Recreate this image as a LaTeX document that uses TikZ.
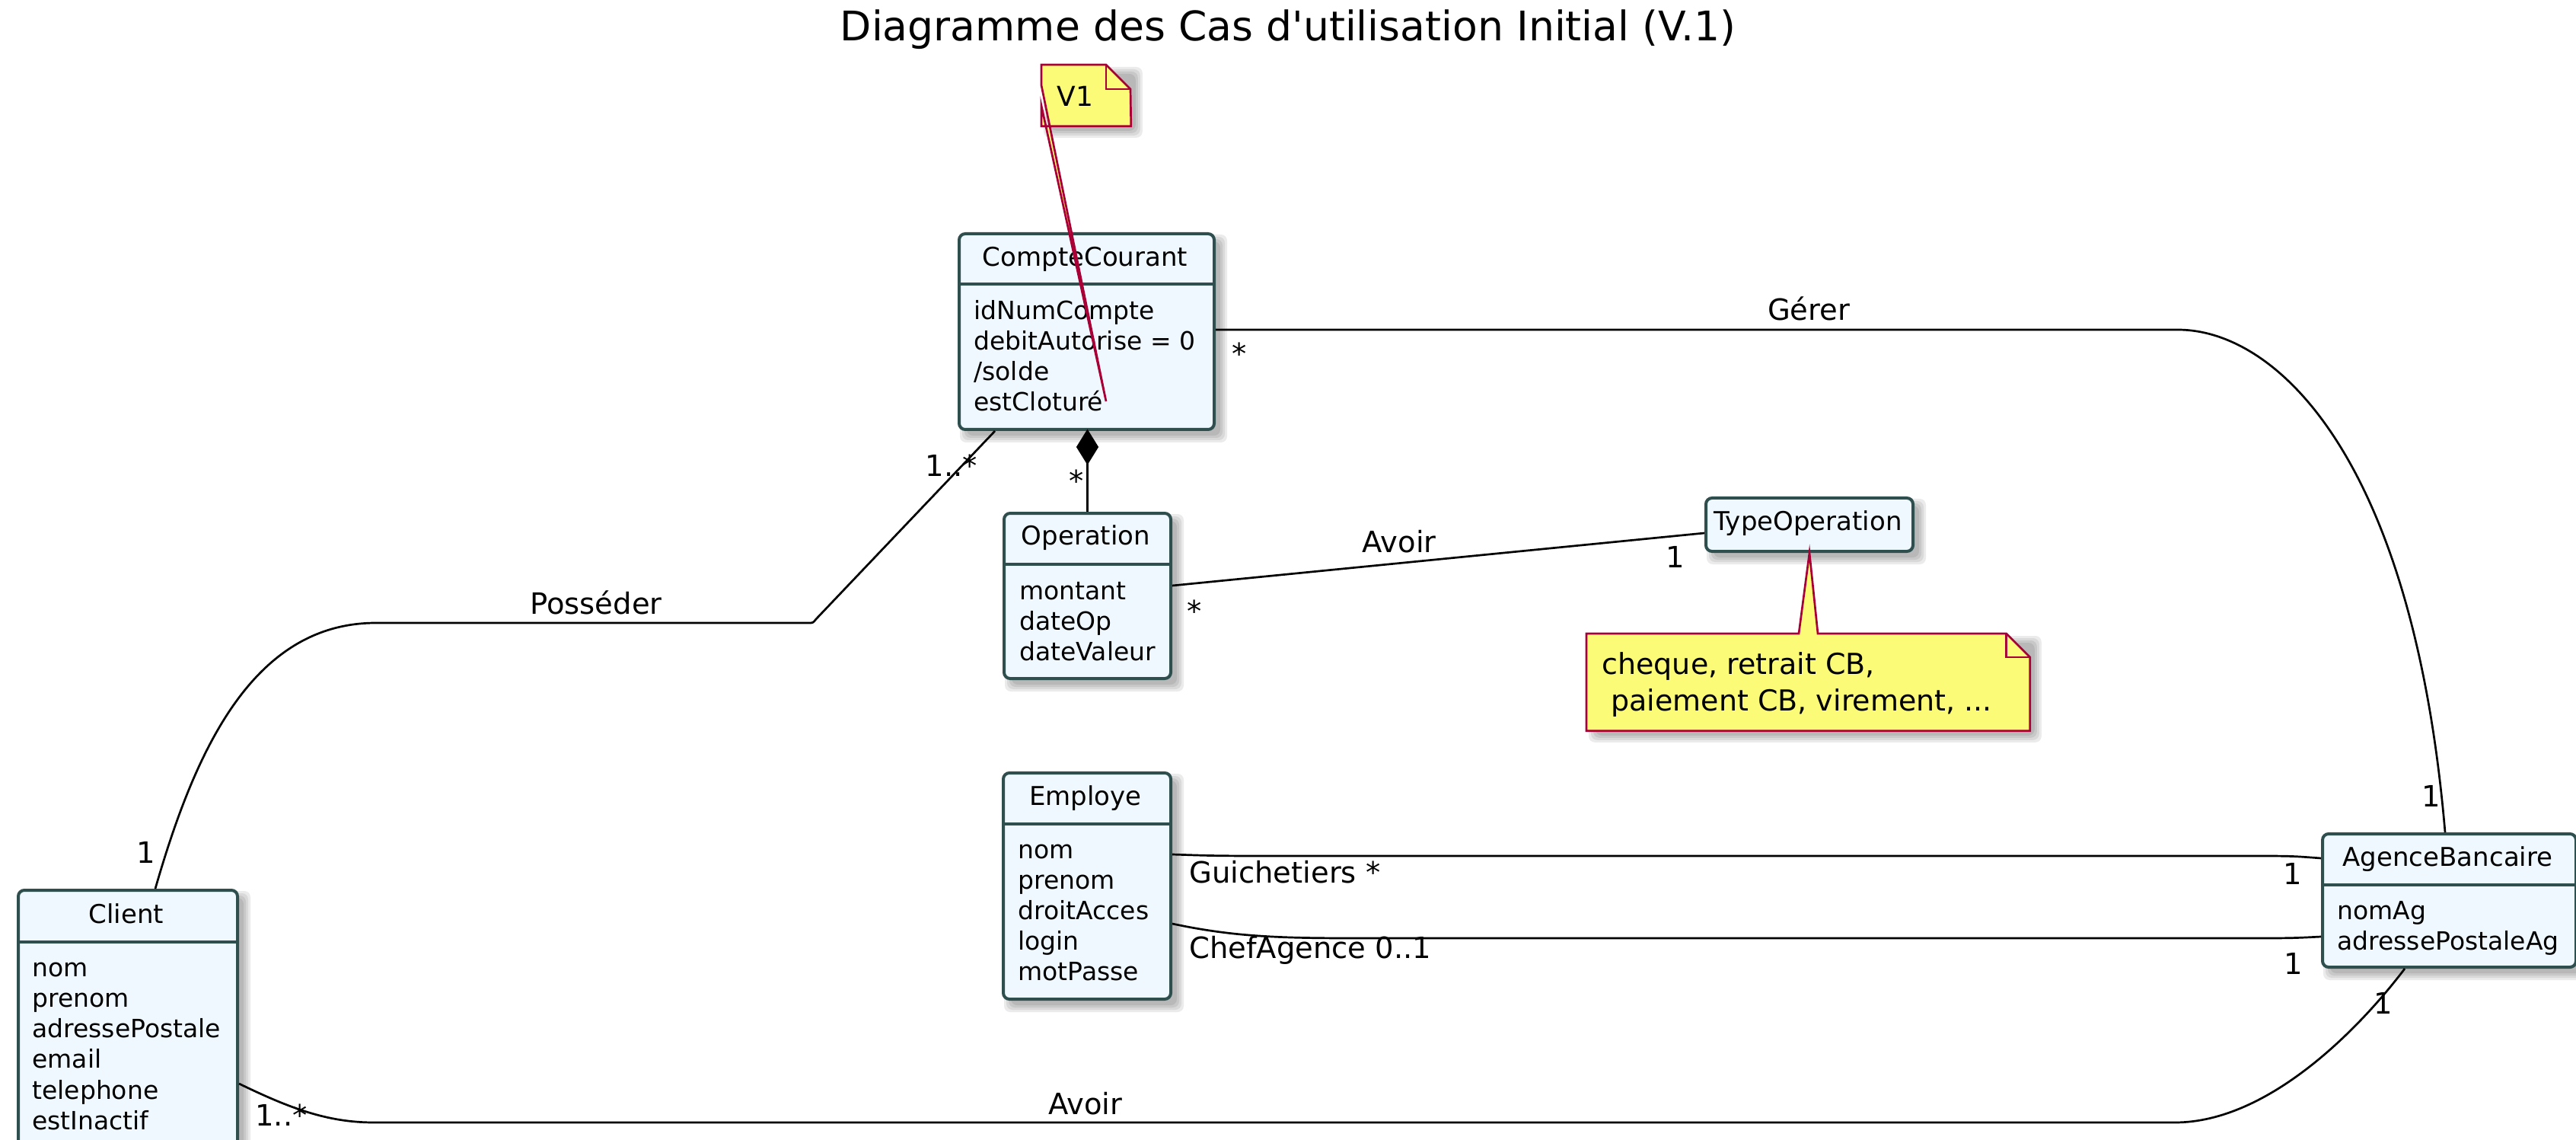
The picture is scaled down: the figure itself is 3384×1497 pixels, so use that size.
\documentclass[tikz,border=0pt]{standalone}
\usepackage{fontspec}
\setmainfont{DejaVu Sans}[Ligatures=TeXOff]
\usetikzlibrary{calc,backgrounds}
\definecolor{boxfill}{HTML}{F0F8FF}
\definecolor{boxline}{HTML}{2F4F4F}
\definecolor{notefill}{HTML}{FBFB77}
\definecolor{noteline}{HTML}{A80036}
\newcommand{\myshadow}[2]{%
  \foreach \a/\b in {3/15,6/12,9/9,12/6}{%
    \fill[black,opacity=0.08,rounded corners=4pt] ($(#1)+(\a,\a)$) rectangle ($(#2)+(\b,\b)$);}}
\begin{document}
\begin{tikzpicture}[x=0.5pt,y=-0.5pt,
  classbox/.style={draw=boxline, fill=boxfill, line width=2pt, rounded corners=4pt, inner sep=0pt, anchor=north west},
  sepline/.style={draw=boxline, line width=2pt},
  cname/.style={font=\fontsize{17}{20}\selectfont, inner sep=0pt, anchor=base},
  attr/.style={font=\fontsize{16.5}{20}\selectfont, inner sep=0pt, anchor=base west},
  lbl/.style={font=\fontsize{19.25}{23}\selectfont, inner sep=0pt, anchor=base},
  lblw/.style={lbl, anchor=base west},
  assoc/.style={draw=black, line width=1.35pt},
  notebox/.style={draw=noteline, fill=notefill, line width=1.35pt, line join=miter},
  notetxt/.style={font=\fontsize{19}{23}\selectfont, inner sep=0pt, anchor=base west},
  holder/.style={inner sep=0pt, anchor=north west}
]
\useasboundingbox (0,0) rectangle (3384,1497);
\clip (0,0) rectangle (3384,1497);

% title
\node[font=\fontsize{26.8}{32}\selectfont, inner sep=0pt, anchor=base] (title) at (1692,54) {Diagramme des Cas d'utilisation Initial (V.1)};

% ---- classes ----
\node[classbox, minimum width=167.5pt, minimum height=128.5pt] (cc) at (1258,305) {};
\draw[sepline] ($(cc.north west)+(0,68)$) -- ($(cc.north east)+(0,68)$);
\node[cname] (ccn) at (1425.5,350) {CompteCourant};
\foreach \t [count=\i] in {idNumCompte,debitAutorise = 0,/solde,estCloturé}
  \node[attr] (cca\i) at (1279,380+40*\i) {\t};

\node[classbox, minimum width=109.5pt, minimum height=108.5pt] (op) at (1317,672) {};
\draw[sepline] ($(op.north west)+(0,69)$) -- ($(op.north east)+(0,69)$);
\node[cname] (opn) at (1426.5,715) {Operation};
\foreach \t [count=\i] in {montant,dateOp,dateValeur}
  \node[attr] (opa\i) at (1339,747+40*\i) {\t};

\node[classbox, minimum width=136pt, minimum height=35pt] (to) at (2239,652) {};
\node[cname] (ton) at (2375,697) {TypeOperation};

\node[classbox, minimum width=110pt, minimum height=148.5pt] (emp) at (1316,1013) {};
\draw[sepline] ($(emp.north west)+(0,69)$) -- ($(emp.north east)+(0,69)$);
\node[cname] (empn) at (1426,1057) {Employe};
\foreach \t [count=\i] in {nom,prenom,droitAcces,login,motPasse}
  \node[attr] (empa\i) at (1337,1087+40*\i) {\t};

\node[classbox, minimum width=166.5pt, minimum height=87.5pt] (ag) at (3049,1093) {};
\draw[sepline] ($(ag.north west)+(0,69)$) -- ($(ag.north east)+(0,69)$);
\node[cname] (agn) at (3215.5,1137) {AgenceBancaire};
\foreach \t [count=\i] in {nomAg,adressePostaleAg}
  \node[attr] (aga\i) at (3070,1167+40*\i) {\t};

\node[classbox, minimum width=144pt, minimum height=171.5pt] (cl) at (22,1167) {};
\draw[sepline] ($(cl.north west)+(0,70)$) -- ($(cl.north east)+(0,70)$);
\node[cname] (cln) at (166,1212) {Client};
\foreach \t [count=\i] in {nom,prenom,adressePostale,email,telephone,estInactif}
  \node[attr] (cla\i) at (42,1242+40.2*\i) {\t};

% ---- notes ----
\node[holder, minimum width=58.5pt, minimum height=40pt] (v1box) at (1368,85) {};
\coordinate (v1apex) at ($(cc.north west)+(195,222)$);
\draw[notebox] (v1box.north west) -- ++(85,0) -- ++(32,32) -- (v1box.south east) -- (v1box.south west)
  -- ++(0,-27) -- (v1apex) -- ($(v1box.north west)+(0,27)$) -- cycle;
\draw[draw=noteline, line width=1.35pt] ($(v1box.north west)+(85,0)$) -- ++(0,32) -- ++(32,0);
\node[notetxt, font=\fontsize{18}{22}\selectfont] (v1t) at (1388,140) {V1};

\node[holder, minimum width=291pt, minimum height=63.5pt] (nbox) at (2084,832) {};
\draw[notebox] (nbox.north west) -- ++(279,0) -- (to.south) -- ($(nbox.north west)+(304,0)$)
  -- ($(nbox.north east)+(-31,0)$) -- ++(31,31) -- (nbox.south east) -- (nbox.south west) -- cycle;
\draw[draw=noteline, line width=1.35pt] ($(nbox.north east)+(-31,0)$) -- ++(0,31) -- ++(31,0);
\node[notetxt] (nt1) at (2104,885) {cheque, retrait CB,};
\node[notetxt] (nt2) at (2116,933) {paiement CB, virement, ...};

% ---- shadows ----
\begin{scope}[on background layer]
  \myshadow{cc.north west}{cc.south east}
  \myshadow{op.north west}{op.south east}
  \myshadow{to.north west}{to.south east}
  \myshadow{emp.north west}{emp.south east}
  \myshadow{ag.north west}{ag.south east}
  \myshadow{cl.north west}{cl.south east}
  \myshadow{v1box.north west}{v1box.south east}
  \myshadow{nbox.north west}{nbox.south east}
\end{scope}

% ---- connectors ----
% Posseder
\draw[assoc] ($(cc.south west)+(49,0)$) -- (1072,813) .. controls (1068,818) .. (1062,818) -- (494,818)
  .. controls (330,818) and (255,990) .. ($(cl.north west)+(182,0)$);
% composition
\coordinate (dtop) at (op.north |- cc.south);
\draw[assoc, fill=black] (dtop) -- ++(-13,21) -- ++(13,21) -- ++(13,-21) -- cycle;
\draw[assoc] ($(dtop)+(0,42)$) -- (op.north);
% Avoir (Operation - TypeOperation)
\draw[assoc] ($(op.north east)+(0,97)$) -- ($(to.north west)+(0,48)$);
% Gerer
\draw[assoc] ($(cc.north east)+(0,128)$) -- (2861,433) .. controls (2990,433) and (3170,600) .. ($(ag.north west)+(163,0)$);
% Guichetiers
\draw[assoc] ($(emp.north east)+(0,109)$) .. controls (1600,1124) .. (1700,1124) -- (2950,1124)
  .. controls (3010,1124) .. ($(ag.north west)+(0,34)$);
% ChefAgence
\draw[assoc] ($(emp.north east)+(0,200)$) .. controls (1620,1230) and (1680,1232) .. (1780,1232) -- (2950,1232)
  .. controls (3010,1232) .. ($(ag.north west)+(0,137)$);
% Avoir (Client - AgenceBancaire)
\draw[assoc] ($(cl.north east)+(0,256)$) .. controls (380,1455) and (430,1474) .. (491,1474) -- (2857,1474)
  .. controls (2980,1474) and (3100,1350) .. ($(ag.south west)+(110,0)$);

% ---- labels ----
\node[lbl] (lpos) at (783,806) {Posséder};
\node[lbl] (lm1) at (1250,625) {1..*};
\node[lbl] (lm2) at (192,1133) {1};
\node[lbl] (lm3) at (1414,646) {*};
\node[lbl] (lav1) at (1838,725) {Avoir};
\node[lbl] (lm4) at (1569,816) {*};
\node[lbl] (lm5) at (2201,745) {1};
\node[lbl] (lger) at (2376,421) {Gérer};
\node[lbl] (lm6) at (1628,479) {*};
\node[lbl] (lm7) at (3194,1059) {1};
\node[lblw] (lgui) at (1562,1159) {Guichetiers *};
\node[lblw] (lchef) at (1562,1258) {ChefAgence 0..1};
\node[lbl] (lm8) at (3012,1161) {1};
\node[lbl] (lm9) at (3013,1279) {1};
\node[lbl] (lav2) at (1426,1463) {Avoir};
\node[lbl] (lm10) at (3131,1331) {1};
\node[lblw] (lm11) at (335,1478) {1..*};
\end{tikzpicture}
\end{document}
